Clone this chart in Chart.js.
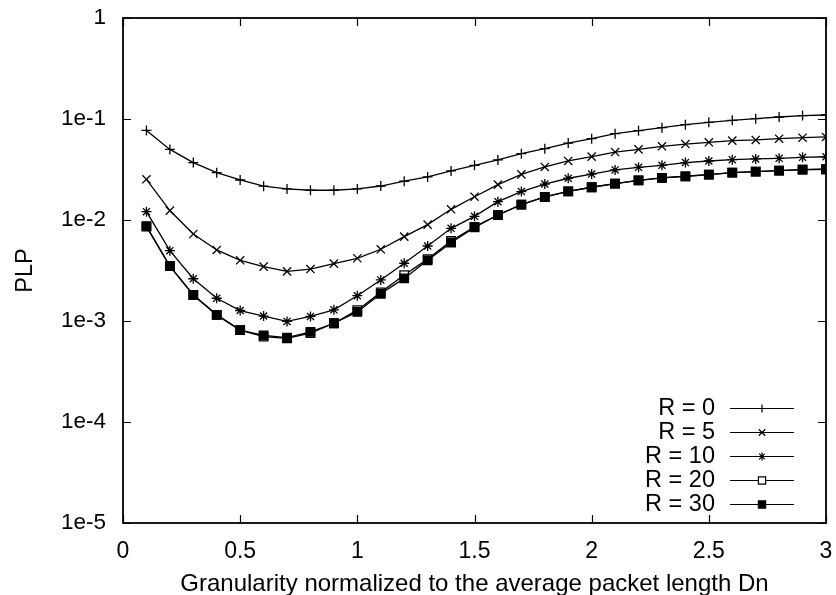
<!DOCTYPE html>
<html>
<head>
<meta charset="utf-8">
<script src="https://cdn.jsdelivr.net/npm/chart.js@4/dist/chart.umd.min.js"></script>
<style>
  html, body { margin: 0; padding: 0; background: #fff; }
  canvas { display: block; }
</style>
</head>
<body>
<canvas id="plp" width="836" height="595"></canvas>
<script>
// Granularity values (normalized to the average packet length Dn)
const granularity = [0.1, 0.2, 0.3, 0.4, 0.5, 0.6, 0.7, 0.8, 0.9, 1.0,
                     1.1, 1.2, 1.3, 1.4, 1.5, 1.6, 1.7, 1.8, 1.9, 2.0,
                     2.1, 2.2, 2.3, 2.4, 2.5, 2.6, 2.7, 2.8, 2.9, 3.0];

// Packet loss probability for each R
const plpR0  = [0.077, 0.050, 0.037, 0.0294, 0.0249, 0.0216, 0.0203, 0.0197, 0.0197, 0.0203,
                0.0217, 0.0242, 0.0267, 0.0306, 0.0348, 0.0393, 0.0454, 0.0508, 0.0578, 0.0638,
                0.0716, 0.0766, 0.082, 0.0879, 0.0927, 0.097, 0.1007, 0.1047, 0.108, 0.1096];
const plpR5  = [0.0253, 0.0124, 0.00727, 0.00505, 0.00399, 0.00345, 0.0031, 0.00327, 0.0037, 0.00418,
                0.00513, 0.00684, 0.0090, 0.01276, 0.0170, 0.0224, 0.0283, 0.0335, 0.0384, 0.0424,
                0.0471, 0.0501, 0.0537, 0.0565, 0.0588, 0.061, 0.062, 0.0638, 0.0653, 0.0664];
const plpR10 = [0.0121, 0.00497, 0.00262, 0.00168, 0.00127, 0.00112, 0.00099, 0.00111, 0.00129, 0.00178,
                0.00255, 0.00373, 0.00553, 0.00827, 0.01087, 0.0152, 0.0191, 0.0227, 0.0259, 0.0285,
                0.0313, 0.0332, 0.0348, 0.037, 0.0384, 0.0396, 0.0402, 0.0408, 0.0417, 0.0423];
const plpR20 = [0.0087, 0.0035, 0.00181, 0.00115, 0.000814, 0.000700, 0.000672, 0.000760, 0.00095, 0.00128,
                0.00192, 0.00285, 0.0041, 0.0062, 0.00855, 0.0112, 0.0142, 0.0169, 0.0192, 0.0211,
                0.0229, 0.0247, 0.0261, 0.0271, 0.0281, 0.0294, 0.0301, 0.0308, 0.0315, 0.0318];
const plpR30 = [0.0086, 0.0035, 0.00181, 0.00115, 0.000814, 0.000721, 0.000684, 0.000780, 0.00095, 0.00123,
                0.00186, 0.00264, 0.00399, 0.00596, 0.00846, 0.0112, 0.0142, 0.0169, 0.0192, 0.0211,
                0.0229, 0.0247, 0.0261, 0.0271, 0.0281, 0.0294, 0.0301, 0.0308, 0.0315, 0.0318];

const seriesLabels = ['R = 0', 'R = 5', 'R = 10', 'R = 20', 'R = 30'];

// Axis ticks
const xTickValues = [0, 0.5, 1, 1.5, 2, 2.5, 3];
const xTickLabels = ['0', '0.5', '1', '1.5', '2', '2.5', '3'];
const yTickValues = [1e-5, 1e-4, 1e-3, 1e-2, 1e-1, 1];
const yTickLabels = ['1e-5', '1e-4', '1e-3', '1e-2', '1e-1', '1'];

const FONT = 'Liberation Sans, Arial, Helvetica, sans-serif';

const markers = [
  { style: 'cross',    radius: 5,   fill: '#000' },
  { style: 'crossRot', radius: 5.8, fill: '#000' },
  { style: 'star',     radius: 5,   fill: '#000' },
  { style: 'rect',     radius: 6,   fill: '#fff' },
  { style: 'rect',     radius: 6,   fill: '#000' }
];

const allSeries = [plpR0, plpR5, plpR10, plpR20, plpR30];

const datasets = allSeries.map((vals, i) => ({
  label: seriesLabels[i],
  data: granularity.map((g, k) => ({ x: g, y: vals[k] })),
  borderColor: '#000',
  borderWidth: 1.3,
  pointStyle: markers[i].style,
  pointRadius: markers[i].radius,
  pointBorderColor: '#000',
  pointBorderWidth: 1.3,
  pointBackgroundColor: markers[i].fill,
  tension: 0,
  fill: false,
  order: allSeries.length - i
}));

// Box around the plot area with inward tick marks on all four sides
const framePlugin = {
  id: 'frame',
  afterDatasetsDraw(chart) {
    const { ctx, chartArea: a, scales } = chart;
    const len = 8;
    ctx.save();
    ctx.strokeStyle = '#000';
    ctx.lineWidth = 1.2;
    ctx.beginPath();
    xTickValues.forEach(v => {
      const px = Math.round(scales.x.getPixelForValue(v)) + 0.5;
      ctx.moveTo(px, a.bottom); ctx.lineTo(px, a.bottom - len);
      ctx.moveTo(px, a.top);    ctx.lineTo(px, a.top + len);
    });
    yTickValues.forEach(v => {
      const py = Math.round(scales.y.getPixelForValue(v)) + 0.5;
      ctx.moveTo(a.left, py);  ctx.lineTo(a.left + len, py);
      ctx.moveTo(a.right, py); ctx.lineTo(a.right - len, py);
    });
    ctx.stroke();
    ctx.lineWidth = 1.8;
    ctx.strokeRect(a.left, a.top, a.right - a.left, a.bottom - a.top);
    ctx.restore();
  }
};

// Key in the lower right: right-aligned label, then a line sample with its marker
const keyPlugin = {
  id: 'key',
  afterDraw(chart) {
    const { ctx, chartArea: a } = chart;
    const textRight = a.right - 111;
    const lineL = a.right - 96, lineR = a.right - 32;
    const rowTop = a.bottom - 115, rowStep = 24;
    ctx.save();
    ctx.font = '23.5px ' + FONT;
    ctx.textAlign = 'right';
    ctx.textBaseline = 'middle';
    chart.data.datasets.forEach((ds, i) => {
      const y = rowTop + i * rowStep;
      ctx.fillStyle = '#000';
      ctx.fillText(ds.label, textRight, y + 1);
      ctx.strokeStyle = '#000';
      ctx.lineWidth = 1.2;
      ctx.beginPath();
      ctx.moveTo(lineL, y + 0.5); ctx.lineTo(lineR, y + 0.5);
      ctx.stroke();
      ctx.fillStyle = ds.pointBackgroundColor;
      ctx.lineWidth = 1.2;
      Chart.helpers.drawPoint(ctx, {
        pointStyle: ds.pointStyle,
        radius: ds.pointRadius * (ds.pointStyle === 'rect' ? 0.85 : 0.8),
        rotation: 0,
        borderWidth: 1.2
      }, (lineL + lineR) / 2, y + 0.5);
    });
    ctx.restore();
  }
};

new Chart(document.getElementById('plp'), {
  type: 'line',
  data: { datasets },
  options: {
    responsive: false,
    animation: false,
    layout: { padding: { left: 0, top: 18, right: 10, bottom: 0 } },
    plugins: {
      legend: { display: false },
      tooltip: { enabled: false }
    },
    scales: {
      x: {
        type: 'linear',
        min: 0,
        max: 3,
        afterBuildTicks(s) { s.ticks = xTickValues.map(v => ({ value: v })); },
        afterFit(s) { s.height = 72; s.paddingLeft = 0; s.paddingRight = 0; },
        ticks: {
          autoSkip: false,
          maxRotation: 0,
          padding: 15,
          color: '#000',
          font: { family: FONT, size: 23 },
          callback: (v, i) => xTickLabels[i]
        },
        grid: { display: false, drawTicks: false },
        border: { display: false },
        title: {
          display: true,
          text: 'Granularity normalized to the average packet length Dn',
          color: '#000',
          font: { family: FONT, size: 24 },
          padding: { top: 0, bottom: -4 }
        }
      },
      y: {
        type: 'logarithmic',
        min: 1e-5,
        max: 1,
        afterBuildTicks(s) { s.ticks = yTickValues.map(v => ({ value: v })); },
        afterFit(s) { s.width = 123; s.paddingTop = 0; s.paddingBottom = 0; },
        ticks: {
          autoSkip: false,
          padding: 17,
          color: '#000',
          font: { family: FONT, size: 22.5 },
          callback: (v, i) => yTickLabels[i]
        },
        grid: { display: false, drawTicks: false },
        border: { display: false },
        title: {
          display: true,
          text: 'PLP',
          color: '#000',
          font: { family: FONT, size: 23.5 },
          padding: { top: 11, bottom: 0 }
        }
      }
    }
  },
  plugins: [framePlugin, keyPlugin]
});
</script>
</body>
</html>
